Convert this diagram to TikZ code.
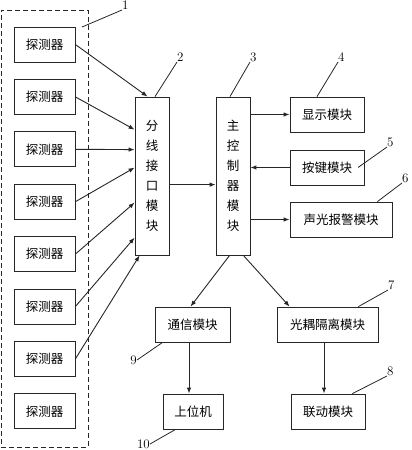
\documentclass[tikz,border=0pt]{standalone}
\usepackage{fontspec}
\newfontfamily\cjk{Noto Sans CJK SC}
\usetikzlibrary{arrows.meta,calc}
\begin{document}
\begin{tikzpicture}[x=1pt,y=-1pt,
  box/.style={draw=black!85,line width=0.8pt,inner sep=0pt,font=\cjk\fontsize{12.5}{20}\selectfont,align=center},
  arr/.style={draw=black!85,line width=0.9pt,-{Latex[length=6pt,width=4.5pt]}},
  lead/.style={draw=black!85,line width=0.8pt},
  num/.style={font=\fontsize{13}{13}\selectfont,inner sep=0pt}]
\useasboundingbox (0,0) rectangle (412,450);
% dashed group
\node[draw=black!85,dash pattern=on 5pt off 3pt,line width=0.9pt,minimum width=87pt,minimum height=437pt,inner sep=0pt] (grp) at (44.5,228.5) {};
% detectors
\foreach \i in {1,...,8}{
  \node[box,minimum width=61pt,minimum height=35pt] (d\i) at (44.5,{44.5+52.4*(\i-1)}) {探测器};
}
% splitter and main controller
\node[box,minimum width=34pt,minimum height=158pt] (sp) at (152,176) {分\\线\\接\\口\\模\\块};
\node[box,minimum width=34pt,minimum height=158pt] (mc) at (233,176) {主\\控\\制\\器\\模\\块};
% right modules
\node[box,minimum width=74pt,minimum height=35pt] (disp) at (327,114.5) {显示模块};
\node[box,minimum width=74pt,minimum height=35pt] (key) at (327,167.5) {按键模块};
\node[box,minimum width=102pt,minimum height=35pt] (alarm) at (341,219.5) {声光报警模块};
% lower modules
\node[box,minimum width=75pt,minimum height=35pt] (comm) at (192.5,324.5) {通信模块};
\node[box,minimum width=101pt,minimum height=35pt] (opto) at (327.5,324.5) {光耦隔离模块};
\node[box,minimum width=60pt,minimum height=35pt] (host) at (193,411.5) {上位机};
\node[box,minimum width=74pt,minimum height=35pt] (link) at (328,411.5) {联动模块};
% detector arrows
\draw[arr] (d1.east) -- ([xshift=13pt]sp.north west);
\draw[arr] (d2.east) -- ([yshift=-33pt]sp.north west);
\draw[arr] (d3.east) -- ([yshift=-53pt]sp.north west);
\draw[arr] (d4.east) -- ([yshift=-71pt]sp.north west);
\draw[arr] (d5.east) -- ([yshift=-106pt]sp.north west);
\draw[arr] (d6.east) -- ([yshift=-141pt]sp.north west);
\draw[arr] (d7.east) -- ([xshift=5pt]sp.south west);
% splitter to main
\draw[arr] ([yshift=-88pt]sp.north east) -- ([yshift=-88pt]mc.north west);
% main to right modules
\draw[arr] (mc.east |- disp.west) -- (disp.west);
\draw[arr] (key.west) -- (mc.east |- key.west);
\draw[arr] (mc.east |- alarm.west) -- (alarm.west);
% main to lower
\draw[arr] ([xshift=14pt]mc.south west) -- ([xshift=-2pt]comm.north);
\draw[arr] ([xshift=-7pt]mc.south east) -- ([xshift=13pt]opto.north west);
\draw[arr] ([xshift=-3.5pt]comm.south) -- ([xshift=-4pt]host.north);
\draw[arr] ([xshift=-3.5pt]opto.south) -- ([xshift=-4pt]link.north);
% leaders and numbers
\coordinate (l1) at (122,10);
\draw[lead] (82,27) -- (l1);
\node[num,anchor=south west] (n1) at (l1) {1};
\coordinate (l2) at (177,62);
\draw[lead] ([xshift=3pt]sp.north) -- (l2);
\node[num,anchor=south west] (n2) at (l2) {2};
\coordinate (l3) at (250,62);
\draw[lead] ([xshift=-3pt]mc.north) -- (l3);
\node[num,anchor=south west] (n3) at (l3) {3};
\coordinate (l4) at (338,62);
\draw[lead] ([xshift=-10pt]disp.north) -- (l4);
\node[num,anchor=south west] (n4) at (l4) {4};
\coordinate (l5) at (387,147);
\draw[lead] ([xshift=31pt]key.center) -- (l5);
\node[num,anchor=south west] (n5) at (l5) {5};
\coordinate (l6) at (402,183);
\draw[lead] ([xshift=-15pt]alarm.north east) -- (l6);
\node[num,anchor=south west] (n6) at (l6) {6};
\coordinate (l7) at (388,290);
\draw[lead] ([xshift=-20pt]opto.north east) -- (l7);
\node[num,anchor=south west] (n7) at (l7) {7};
\coordinate (l8) at (387,376);
\draw[lead] ([xshift=-13pt]link.north east) -- (l8);
\node[num,anchor=south west] (n8) at (l8) {8};
\coordinate (l9) at (137,360);
\draw[lead] ([xshift=8pt]comm.south west) -- (l9);
\node[num,anchor=east] (n9) at (l9) {9};
\coordinate (l10) at (150,444);
\draw[lead] ([xshift=13pt]host.south west) -- (l10);
\node[num,anchor=east] (n10) at (l10) {10};
\end{tikzpicture}
\end{document}
